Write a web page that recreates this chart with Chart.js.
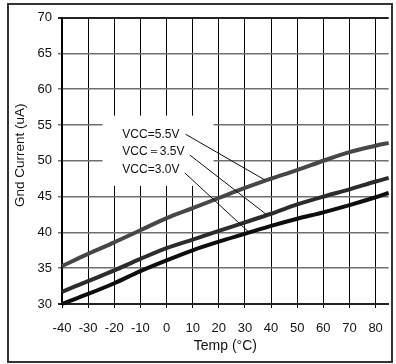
<!DOCTYPE html>
<html>
<head>
<meta charset="utf-8">
<script src="https://cdn.jsdelivr.net/npm/chart.js@4.4.1/dist/chart.umd.min.js"></script>
<style>
  html, body { margin: 0; padding: 0; background: #fff; }
  #wrap { width: 396px; height: 364px; }
</style>
</head>
<body>
<div id="wrap"><canvas id="gndChart" width="396" height="364"></canvas></div>
<script>
// Ground current vs temperature, one curve per supply voltage
const temps = [-40, -30, -20, -10, 0, 10, 20, 30, 40, 50, 60, 70, 80, 85];
const vcc55 = [35.3, 37.0, 38.6, 40.3, 42.0, 43.4, 44.8, 46.2, 47.5, 48.7, 50.0, 51.2, 52.1, 52.5];
const vcc35 = [31.7, 33.2, 34.7, 36.3, 37.8, 39.0, 40.2, 41.4, 42.6, 43.9, 45.0, 46.0, 47.1, 47.6];
const vcc30 = [30.0, 31.4, 32.9, 34.6, 36.1, 37.5, 38.7, 39.8, 40.9, 41.9, 42.8, 43.8, 44.9, 45.5];
const seriesNames = ['VCC=5.5V', 'VCC\uFF1D3.5V', 'VCC=3.0V'];
const xTicks = [-40, -30, -20, -10, 0, 10, 20, 30, 40, 50, 60, 70, 80];
const yTicks = [30, 35, 40, 45, 50, 55, 60, 65, 70];
const yTitle = 'Gnd Current (uA)';

const FONT = '"Liberation Sans", Arial, Helvetica, sans-serif';

// callout text + leader line, all in data units (temp, uA)
const callouts = [
    { label: 0, at: [-16.9, 53.6], from: [7.3, 53.7], to: [37.7, 47.3] },
    { label: 1, at: [-16.9, 51.2], from: [8.9, 50.8], to: [38.2, 42.5] },
    { label: 2, at: [-16.9, 48.7], from: [7.0, 48.3], to: [31.6, 40.0] }
];
// white patch behind the callout text (hides grid there)
const calloutBox = { x0: -24.5, x1: 18, y0: 46.5, y1: 56.3 };

const calloutPlugin = {
    id: 'callouts',
    beforeDatasetsDraw(chart) {
        const { ctx, scales: { x, y } } = chart;
        const l = x.getPixelForValue(calloutBox.x0);
        const r = x.getPixelForValue(calloutBox.x1);
        const t = y.getPixelForValue(calloutBox.y1);
        const b = y.getPixelForValue(calloutBox.y0);
        ctx.save();
        ctx.fillStyle = '#fff';
        ctx.fillRect(l, t, r - l, b - t);
        ctx.restore();
    },
    afterDatasetsDraw(chart) {
        const { ctx, scales: { x, y } } = chart;
        ctx.save();
        ctx.strokeStyle = '#111';
        ctx.lineWidth = 1;
        ctx.fillStyle = '#111';
        ctx.font = '12px ' + FONT;
        ctx.textAlign = 'left';
        ctx.textBaseline = 'middle';
        callouts.forEach(c => {
            ctx.beginPath();
            ctx.moveTo(x.getPixelForValue(c.from[0]), y.getPixelForValue(c.from[1]));
            ctx.lineTo(x.getPixelForValue(c.to[0]), y.getPixelForValue(c.to[1]));
            ctx.stroke();
            ctx.fillText(seriesNames[c.label], x.getPixelForValue(c.at[0]), y.getPixelForValue(c.at[1]));
        });
        ctx.restore();
    },
    afterDraw(chart) {
        const { ctx, chartArea } = chart;
        ctx.save();
        // y axis title, sits a little above the plot's middle
        ctx.fillStyle = '#111';
        ctx.font = '13.5px ' + FONT;
        ctx.textAlign = 'center';
        ctx.textBaseline = 'middle';
        ctx.translate(20, (chartArea.top + chartArea.bottom) / 2 - 5.5);
        ctx.rotate(-Math.PI / 2);
        ctx.fillText(yTitle, 0, 0);
        ctx.setTransform(1, 0, 0, 1, 0, 0);
        // outer frame around the whole figure
        ctx.strokeStyle = '#333';
        ctx.lineWidth = 2;
        ctx.strokeRect(8, 4, 384, 358);
        ctx.restore();
    }
};

const ctx = document.getElementById('gndChart').getContext('2d');
new Chart(ctx, {
    type: 'line',
    data: {
        labels: temps,
        datasets: [
            { label: seriesNames[0], data: temps.map((t, i) => ({ x: t, y: vcc55[i] })), borderColor: '#474747', borderWidth: 4 },
            { label: seriesNames[1], data: temps.map((t, i) => ({ x: t, y: vcc35[i] })), borderColor: '#2c2c2c', borderWidth: 4 },
            { label: seriesNames[2], data: temps.map((t, i) => ({ x: t, y: vcc30[i] })), borderColor: '#0e0e0e', borderWidth: 4 }
        ]
    },
    options: {
        responsive: false,
        animation: false,
        clip: false,
        layout: { padding: { top: 17.5, right: 4, left: 0, bottom: 0 } },
        elements: {
            point: { radius: 0 },
            line: { cubicInterpolationMode: 'monotone', borderCapStyle: 'butt' }
        },
        plugins: { legend: { display: false }, tooltip: { enabled: false } },
        scales: {
            x: {
                type: 'linear',
                min: -40,
                max: 85,
                afterBuildTicks: s => { s.ticks = xTicks.map(v => ({ value: v })); },
                afterFit: s => { s.height = 60; },
                grid: { color: '#000', lineWidth: 1, drawTicks: true, tickLength: 4 },
                border: { color: '#222', width: 2 },
                ticks: { padding: 13, color: '#111', autoSkip: false, maxRotation: 0, font: { family: FONT, size: 13 } },
                title: { display: true, text: 'Temp (°C)', color: '#111', font: { family: FONT, size: 14 }, padding: { top: 0, bottom: 9 } }
            },
            y: {
                min: 30,
                max: 70,
                afterBuildTicks: s => { s.ticks = yTicks.map(v => ({ value: v })); },
                afterFit: s => { s.width = 62; },
                grid: {
                    color: c => (c.tick && (c.tick.value === 70 || c.tick.value === 30)) ? '#222' : '#707070',
                    lineWidth: c => (c.tick && (c.tick.value === 70 || c.tick.value === 30)) ? 2 : 1.5,
                    drawTicks: true,
                    tickLength: 4
                },
                border: { color: '#000', width: 1.5 },
                ticks: { padding: 6, color: '#111', font: { family: FONT, size: 13 } }
            }
        }
    },
    plugins: [calloutPlugin]
});
</script>
</body>
</html>
